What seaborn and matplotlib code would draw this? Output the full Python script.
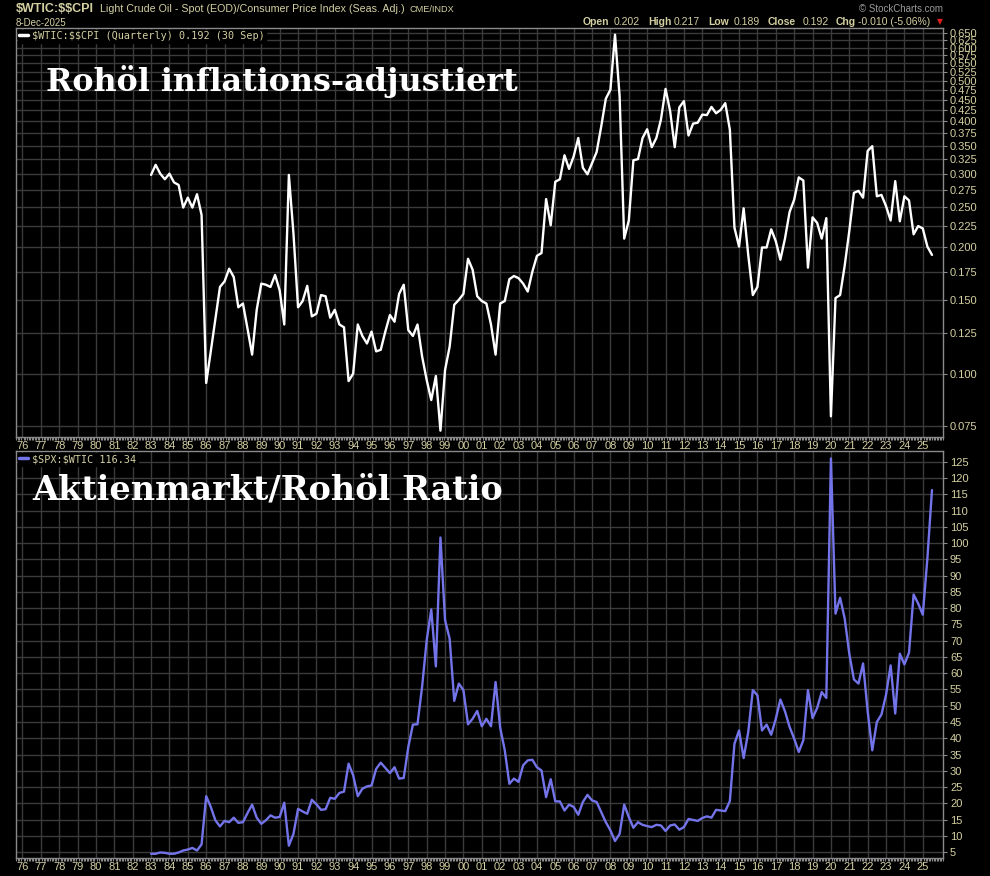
"""Crude oil / CPI and S&P 500 / crude oil ratio, StockCharts style."""

import matplotlib

matplotlib.use("Agg")
import matplotlib.pyplot as plt
import matplotlib.ticker as mticker
import pandas as pd
import seaborn as sns

# Quarterly closes, 1983Q1 .. 2025Q3
first_quarter = "1983Q1"
last_quarter = "2025Q3"

wti_cpi_1980s = [0.298, 0.315, 0.300, 0.291, 0.300, 0.286, 0.282, 0.249, 0.263, 0.249,
                 0.268, 0.239, 0.095, 0.113, 0.135, 0.161, 0.166, 0.178, 0.170, 0.144,
                 0.147, 0.128, 0.111, 0.142, 0.164, 0.163, 0.161, 0.172]
wti_cpi_1990s = [0.158, 0.131, 0.298, 0.216, 0.144, 0.149, 0.162, 0.137, 0.139, 0.154,
                 0.153, 0.136, 0.142, 0.131, 0.129, 0.096, 0.100, 0.131, 0.123, 0.118,
                 0.126, 0.113, 0.114, 0.126, 0.138, 0.133, 0.155, 0.163, 0.127, 0.123,
                 0.131, 0.110, 0.0966, 0.0865, 0.0987, 0.0731, 0.102, 0.116, 0.146, 0.150]
wti_cpi_2000s = [0.155, 0.188, 0.177, 0.153, 0.149, 0.147, 0.131, 0.111, 0.147, 0.149,
                 0.168, 0.171, 0.169, 0.164, 0.157, 0.175, 0.191, 0.194, 0.261, 0.226,
                 0.287, 0.291, 0.332, 0.308, 0.330, 0.365, 0.310, 0.299, 0.318, 0.338,
                 0.389, 0.453, 0.476, 0.644, 0.459, 0.210, 0.232, 0.323, 0.325, 0.365]
wti_cpi_2010s = [0.383, 0.347, 0.365, 0.404, 0.478, 0.423, 0.347, 0.432, 0.447, 0.370,
                 0.395, 0.397, 0.415, 0.414, 0.433, 0.418, 0.426, 0.442, 0.382, 0.223,
                 0.201, 0.248, 0.192, 0.154, 0.161, 0.200, 0.200, 0.221, 0.207, 0.187,
                 0.210, 0.243, 0.260, 0.294, 0.289, 0.179, 0.236, 0.229, 0.210, 0.235]
wti_cpi_2020s = [0.0791, 0.1515, 0.154, 0.181, 0.219, 0.270, 0.273, 0.263, 0.340, 0.349,
                 0.265, 0.267, 0.251, 0.232, 0.288, 0.231, 0.265, 0.259, 0.215, 0.225,
                 0.222, 0.201, 0.192]

spx_wti_1980s = [4.5, 4.5, 4.9, 4.8, 4.5, 4.5, 4.9, 5.5, 5.8, 6.3,
                 5.5, 7.4, 22.2, 18.9, 14.8, 12.9, 14.6, 14.2, 15.6, 14.0,
                 14.2, 17.0, 19.6, 15.6, 13.7, 14.8, 16.3, 15.6]
spx_wti_1990s = [15.8, 20.2, 7.0, 10.6, 18.3, 17.5, 16.8, 21.1, 19.7, 18.0,
                 18.2, 21.7, 21.4, 23.2, 23.6, 32.2, 28.6, 22.2, 24.5, 25.2,
                 25.5, 30.6, 32.5, 30.9, 29.3, 31.1, 27.6, 27.8, 37.3, 44.2,
                 44.3, 55.8, 70.1, 79.6, 62.1, 101.7, 76.3, 70.6, 51.5, 56.8]
spx_wti_2000s = [54.8, 44.3, 46.0, 48.4, 43.7, 46.0, 43.7, 57.3, 43.3, 36.3,
                 26.0, 27.6, 26.6, 31.7, 33.2, 33.4, 31.1, 30.1, 21.9, 27.4,
                 20.6, 20.6, 17.8, 19.6, 18.9, 16.5, 20.4, 22.6, 20.9, 20.4,
                 17.3, 14.2, 11.7, 8.4, 10.6, 19.6, 15.8, 12.5, 14.2, 13.4]
spx_wti_2010s = [13.0, 12.7, 13.4, 13.2, 11.5, 13.2, 13.5, 11.9, 12.7, 15.2,
                 14.9, 14.6, 15.5, 16.0, 15.6, 18.0, 17.8, 17.6, 20.7, 38.3,
                 42.4, 33.9, 41.9, 54.8, 53.2, 42.4, 44.2, 41.1, 46.0, 51.9,
                 48.3, 43.5, 39.9, 35.8, 39.4, 54.8, 46.2, 49.3, 54.2, 52.4]
spx_wti_2020s = [126.0, 78.3, 83.2, 76.8, 66.0, 58.1, 56.8, 63.0, 48.3, 36.3,
                 45.0, 47.3, 53.4, 62.4, 47.6, 66.0, 62.7, 66.3, 84.2, 81.4,
                 78.0, 95.3, 116.3]

year_ticks = list(range(1976, 2026))
year_labels = [f"{y % 100:02d}" for y in year_ticks]
cpi_ticks = [0.075, 0.100, 0.125, 0.150, 0.175, 0.200, 0.225, 0.250, 0.275, 0.300,
             0.325, 0.350, 0.375, 0.400, 0.425, 0.450, 0.475, 0.500, 0.525, 0.550,
             0.575, 0.600, 0.625, 0.650]
ratio_ticks = [5, 10, 15, 20, 25, 30, 35, 40, 45, 50, 55, 60, 65, 70, 75, 80, 85,
               90, 95, 100, 105, 110, 115, 120, 125]

quarters = pd.period_range(first_quarter, last_quarter, freq="Q")
df = pd.DataFrame({
    "t": quarters.year + (quarters.quarter - 1) / 4,
    "wti_cpi": wti_cpi_1980s + wti_cpi_1990s + wti_cpi_2000s + wti_cpi_2010s + wti_cpi_2020s,
    "spx_wti": spx_wti_1980s + spx_wti_1990s + spx_wti_2000s + spx_wti_2010s + spx_wti_2020s,
})

TAN = "#d4d0a2"
GRID = "#3b3b3b"
FRAME = "#8a8a8a"
W, H = 990, 876

sns.set_theme(style="dark")
plt.rcParams["font.family"] = ["Liberation Sans", "DejaVu Sans"]

fig = plt.figure(figsize=(W / 100, H / 100), dpi=100, facecolor="black")


def box(x0, y0, x1, y1):
    return [x0 / W, 1 - y1 / H, (x1 - x0) / W, (y1 - y0) / H]


def px(x, y):
    return x / W, 1 - y / H


ax1 = fig.add_axes(box(16, 28, 943, 437))
ax2 = fig.add_axes(box(16, 451, 943, 858))

sns.lineplot(data=df, x="t", y="wti_cpi", ax=ax1, color="white", linewidth=1.7,
             label=r"\$WTIC:\$\$CPI (Quarterly) 0.192 (30 Sep)")
sns.lineplot(data=df, x="t", y="spx_wti", ax=ax2, color="#7474ea", linewidth=1.7,
             label=r"\$SPX:\$WTIC 116.34")

ax1.set_yscale("log")
ax1.set_ylim(0.0706, 0.668)
ax1.yaxis.set_major_locator(mticker.FixedLocator(cpi_ticks))
ax1.yaxis.set_major_formatter(mticker.FormatStrFormatter("%.3f"))
ax1.yaxis.set_minor_locator(mticker.NullLocator())

ax2.set_ylim(3.2, 128.3)
ax2.yaxis.set_major_locator(mticker.FixedLocator(ratio_ticks))
ax2.yaxis.set_major_formatter(mticker.FormatStrFormatter("%d"))

for ax in (ax1, ax2):
    ax.set_facecolor("black")
    ax.set_xlim(1975.65, 2026.1)
    ax.set_xticks(year_ticks)
    ax.set_xticklabels(year_labels)
    ax.xaxis.set_minor_locator(mticker.MultipleLocator(1 / 12))
    ax.set_xlabel("")
    ax.set_ylabel("")
    ax.yaxis.tick_right()
    ax.grid(True, which="major", color=GRID, linewidth=1.0)
    ax.tick_params(axis="x", which="major", length=0, pad=3, labelsize=8,
                   labelcolor=TAN)
    ax.tick_params(axis="x", which="minor", length=2, width=0.8, color=FRAME,
                   direction="out", bottom=True)
    ax.tick_params(axis="y", which="major", length=3, width=0.8, color=FRAME,
                   direction="out", pad=2, labelsize=8, labelcolor=TAN,
                   right=True, left=False)
    for s in ax.spines.values():
        s.set_color(FRAME)
        s.set_linewidth(1.0)
    leg = ax.legend(loc="upper left", frameon=True, fancybox=False, framealpha=1,
                    facecolor="black", edgecolor="black", handlelength=0.9,
                    handletextpad=0.4, borderpad=0.15, borderaxespad=0.15,
                    prop={"family": "DejaVu Sans Mono", "size": 7.3})
    for t in leg.get_texts():
        t.set_color(TAN)
    for ln in leg.get_lines():
        ln.set_linewidth(2.5)

# header
fig.text(*px(16, 9.5), r"\$WTIC:\$\$CPI", color=TAN, fontsize=9, fontweight="bold",
         va="center", ha="left")
fig.text(*px(100, 9.5), "Light Crude Oil - Spot (EOD)/Consumer Price Index (Seas. Adj.)",
         color=TAN, fontsize=7.7, va="center", ha="left")
fig.text(*px(410, 9.5), "CME/INDX", color=TAN, fontsize=6.6, va="center", ha="left")
fig.text(*px(16, 23), "8-Dec-2025", color=TAN, fontsize=7, va="center", ha="left")
fig.text(*px(943, 9), "\u00a9 StockCharts.com", color="#9a9a9a", fontsize=7,
         va="center", ha="right")

ohlc = [("Open", 583, True), ("0.202", 614, False), ("High", 648, True),
        ("0.217", 674, False), ("Low", 708, True), ("0.189", 734, False),
        ("Close", 768, True), ("0.192", 803, False), ("Chg", 836, True),
        ("-0.010 (-5.06%)", 858, False)]
for label, x, bold in ohlc:
    fig.text(*px(x, 22), label, color=TAN, fontsize=7.5,
             fontweight="bold" if bold else "normal", va="center", ha="left")
fig.text(*px(940, 22), "\u25bc", color="#e02020", fontsize=5.5, va="center",
         ha="center", family="DejaVu Sans")

# big titles, fitted to the reference width
renderer = fig.canvas.get_renderer()
for text, x, y, width in [("Rohöl inflations-adjustiert", 46, 91, 472),
                          ("Aktienmarkt/Rohöl Ratio", 32, 500, 471)]:
    t = fig.text(*px(x, y), text, color="white", fontsize=20, fontweight="heavy",
                 family="DejaVu Serif", va="baseline", ha="left")
    w = t.get_window_extent(renderer).width
    t.set_fontsize(20 * width / w)

fig.savefig("out.png", dpi=100, facecolor="black")
